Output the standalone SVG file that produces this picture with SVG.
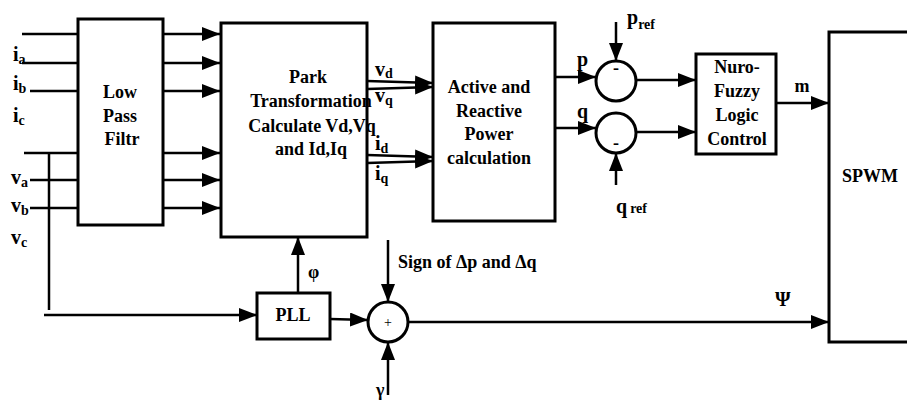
<svg xmlns="http://www.w3.org/2000/svg" width="907" height="400" viewBox="0 0 907 400">
<style>
.box{fill:#fff;stroke:#000;stroke-width:3}
.ln{fill:none;stroke:#000;stroke-width:2.5}
.t{font-family:"Liberation Serif","Times New Roman",Tinos,"DejaVu Serif","Noto Serif",serif;font-weight:bold;font-size:18px;fill:#000}
.c{text-anchor:middle}
.lab{font-family:"Liberation Serif","Times New Roman",Tinos,"DejaVu Serif","Noto Serif",serif;font-weight:bold;font-size:20px;fill:#000}
.sub{font-size:14px}
</style>
<defs>
<marker id="ar" markerUnits="userSpaceOnUse" markerWidth="18" markerHeight="14" refX="18" refY="7" orient="auto">
<path d="M0,0 L18,7 L0,14 z" fill="#000"/>
</marker>
</defs>
<rect width="907" height="400" fill="#fff"/>

<g id="connectors">
<line class="ln" x1="22" y1="34" x2="78" y2="34"/>
<line class="ln" x1="22" y1="63" x2="78" y2="63"/>
<line class="ln" x1="30" y1="91" x2="78" y2="91"/>
<line class="ln" x1="24" y1="153" x2="78" y2="153"/>
<line class="ln" x1="30" y1="180" x2="78" y2="180"/>
<line class="ln" x1="30" y1="208" x2="78" y2="208"/>
<line class="ln" x1="49" y1="153" x2="49" y2="310"/>
<line class="ln" x1="44" y1="315" x2="257" y2="315" marker-end="url(#ar)"/>
<line class="ln" x1="163" y1="34" x2="220" y2="34" marker-end="url(#ar)"/>
<line class="ln" x1="163" y1="63" x2="220" y2="63" marker-end="url(#ar)"/>
<line class="ln" x1="163" y1="91" x2="220" y2="91" marker-end="url(#ar)"/>
<line class="ln" x1="163" y1="153" x2="220" y2="153" marker-end="url(#ar)"/>
<line class="ln" x1="163" y1="180" x2="220" y2="180" marker-end="url(#ar)"/>
<line class="ln" x1="163" y1="208" x2="220" y2="208" marker-end="url(#ar)"/>
<line class="ln" x1="367" y1="81" x2="433" y2="83" marker-end="url(#ar)"/>
<line class="ln" x1="367" y1="89" x2="433" y2="87" marker-end="url(#ar)"/>
<line class="ln" x1="367" y1="155" x2="433" y2="157" marker-end="url(#ar)"/>
<line class="ln" x1="367" y1="163" x2="433" y2="161" marker-end="url(#ar)"/>
<line class="ln" x1="555" y1="77" x2="596" y2="77" marker-end="url(#ar)"/>
<line class="ln" x1="555" y1="128" x2="596" y2="128" marker-end="url(#ar)"/>
<line class="ln" x1="616" y1="22" x2="616" y2="61" marker-end="url(#ar)"/>
<line class="ln" x1="616" y1="185" x2="616" y2="153" marker-end="url(#ar)"/>
<line class="ln" x1="637" y1="80" x2="696" y2="80" marker-end="url(#ar)"/>
<line class="ln" x1="637" y1="132" x2="696" y2="132" marker-end="url(#ar)"/>
<line class="ln" x1="776" y1="103" x2="829" y2="103" marker-end="url(#ar)"/>
<line class="ln" x1="298" y1="293" x2="298" y2="237" marker-end="url(#ar)"/>
<line class="ln" x1="330" y1="319" x2="368" y2="320" stroke-width="4" marker-end="url(#ar)"/>
<line class="ln" x1="388" y1="240" x2="388" y2="302" marker-end="url(#ar)"/>
<line class="ln" x1="388" y1="395" x2="388" y2="342" marker-end="url(#ar)"/>
<line class="ln" x1="408" y1="322" x2="829" y2="322" marker-end="url(#ar)"/>
</g>

<g id="inputs">
<text class="lab" x="13" y="61">i<tspan class="sub" dy="3">a</tspan></text>
<text class="lab" x="13" y="90">i<tspan class="sub" dy="3">b</tspan></text>
<text class="lab" x="13" y="122">i<tspan class="sub" dy="3">c</tspan></text>
<text class="lab" x="11" y="184">v<tspan class="sub" dy="3">a</tspan></text>
<text class="lab" x="11" y="212">v<tspan class="sub" dy="3">b</tspan></text>
<text class="lab" x="11" y="244">v<tspan class="sub" dy="3">c</tspan></text>
</g>

<g id="lpf">
<rect class="box" x="78" y="19" width="85" height="206"/>
<text class="t c" x="120" y="98">Low</text>
<text class="t c" x="120" y="122">Pass</text>
<text class="t c" x="122" y="145">Filtr</text>
</g>

<g id="park">
<rect class="box" x="221" y="23" width="146" height="214"/>
<text class="t c" x="308" y="83">Park</text>
<text class="t c" x="311" y="107">Transformation</text>
<text class="t c" x="312" y="132">Calculate Vd,Vq</text>
<text class="t c" x="311" y="155">and Id,Iq</text>
</g>

<g id="dq-labels">
<text class="lab" x="375" y="76">v<tspan class="sub" dy="2">d</tspan></text>
<text class="lab" x="375" y="102">v<tspan class="sub" dy="3">q</tspan></text>
<text class="lab" x="375" y="150">i<tspan class="sub" dy="3">d</tspan></text>
<text class="lab" x="375" y="180">i<tspan class="sub" dy="3">q</tspan></text>
</g>

<g id="power">
<rect class="box" x="433" y="23" width="122" height="198"/>
<text class="t c" x="489" y="93">Active and</text>
<text class="t c" x="489" y="117">Reactive</text>
<text class="t c" x="489" y="140">Power</text>
<text class="t c" x="489" y="164">calculation</text>
<text class="lab" x="577" y="66">p</text>
<text class="lab" x="577" y="118">q</text>
</g>

<g id="sum-p">
<circle cx="616" cy="81" r="20" fill="#fff" stroke="#000" stroke-width="3"/>
<text class="t c" x="616" y="74" font-size="14">-</text>
<text class="lab" x="627" y="24">p<tspan class="sub" dy="5">ref</tspan></text>
</g>

<g id="sum-q">
<circle cx="616" cy="133" r="20" fill="#fff" stroke="#000" stroke-width="3"/>
<text class="t c" x="616" y="149" font-size="14">-</text>
<text class="lab" x="616" y="213">q<tspan class="sub" dx="3">ref</tspan></text>
</g>

<g id="nfc">
<rect class="box" x="696" y="54" width="80" height="100"/>
<text class="t c" x="737" y="73">Nuro-</text>
<text class="t c" x="737" y="97">Fuzzy</text>
<text class="t c" x="737" y="121">Logic</text>
<text class="t c" x="737" y="145">Control</text>
<text class="t c" x="802" y="92">m</text>
</g>

<g id="spwm">
<rect class="box" x="829" y="32" width="90" height="310"/>
<text class="t" x="842" y="182">SPWM</text>
</g>

<g id="pll">
<rect class="box" x="257" y="293" width="73" height="46"/>
<text class="t c" x="293" y="321">PLL</text>
<text class="t" x="308" y="278" font-size="16">φ</text>
</g>

<g id="sum-angle">
<circle cx="388" cy="322" r="20" fill="#fff" stroke="#000" stroke-width="3"/>
<text x="388" y="327" text-anchor="middle" font-family="Liberation Serif,serif" font-size="14">+</text>
<text class="t" x="398" y="268">Sign of Δp and Δq</text>
<text class="t" x="376" y="396" font-size="13">γ</text>
<text class="lab" x="775" y="306">Ψ</text>
</g>
</svg>
